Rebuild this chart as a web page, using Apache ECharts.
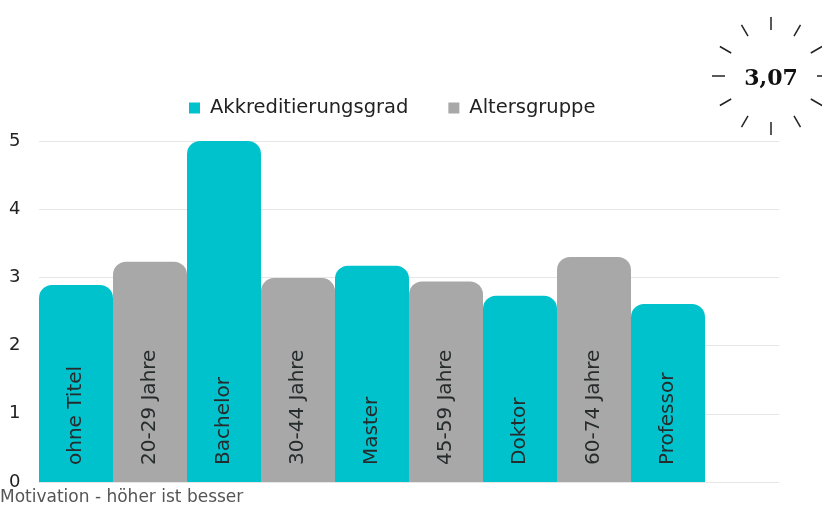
<!DOCTYPE html>
<html><head><meta charset="utf-8">
<script src="https://cdn.jsdelivr.net/npm/echarts@6/dist/echarts.min.js"></script>
<style>html,body{margin:0;padding:0;background:#fff}#c{width:822px;height:513px}</style>
</head><body><div id="c"></div>
<script>
const categories = ['ohne Titel','20-29 Jahre','Bachelor','30-44 Jahre','Master','45-59 Jahre','Doktor','60-74 Jahre','Professor',''];
const akkreditierung = [2.89, null, 5.0, null, 3.17, null, 2.73, null, 2.61, null];
const altersgruppe = [null, 3.23, null, 2.99, null, 2.94, null, 3.30, null, null];
const seriesNames = ['Akkreditierungsgrad', 'Altersgruppe'];
const yTicks = [0, 1, 2, 3, 4, 5];
const badgeValue = '3,07';
const footnote = 'Motivation - höher ist besser';

const chart = echarts.init(document.getElementById('c'), null, {renderer: 'canvas'});
const font = "'DejaVu Sans', sans-serif";
const labelCfg = {
  show: true, position: 'insideBottom', rotate: 90, distance: 17,
  align: 'left', verticalAlign: 'middle',
  formatter: '{b}', color: '#262b2c', fontSize: 20, fontFamily: font
};
// badge rays (decoration)
const cx = 771, cy = 76, r1 = 46, r2 = 59;
const rays = [];
for (let i = 0; i < 12; i++) {
  const a = i * Math.PI / 6;
  rays.push({type: 'line', shape: {x1: cx + r1*Math.sin(a), y1: cy - r1*Math.cos(a), x2: cx + r2*Math.sin(a), y2: cy - r2*Math.cos(a)},
    style: {stroke: '#222', lineWidth: 1.5}});
}
chart.setOption({
  animation: false,
  color: ['#00C2CC', '#A8A8A8'],
  legend: {
    data: seriesNames, top: 93, left: 184, itemWidth: 11, itemHeight: 11, itemGap: 40,
    icon: 'rect',
    textStyle: {fontSize: 19.5, color: '#222', fontFamily: font, fontWeight: 'normal', padding: [0, 0, 0, 5]}
  },
  grid: {left: 39, right: 43, top: 141, bottom: 31, containLabel: false},
  xAxis: {
    type: 'category', data: categories,
    axisLine: {show: false}, axisTick: {show: false}, axisLabel: {show: false}
  },
  yAxis: {
    type: 'value', min: yTicks[0], max: yTicks[yTicks.length-1], interval: 1,
    axisLabel: {align: 'left', margin: 30, fontSize: 18, color: '#222', fontFamily: font},
    splitLine: {lineStyle: {color: '#e6e6e6', width: 1}},
    axisLine: {show: false}, axisTick: {show: false}
  },
  series: [
    {name: seriesNames[0], type: 'bar', data: akkreditierung, barWidth: '100%', barGap: '-100%',
      itemStyle: {borderRadius: [13, 13, 0, 0]}, label: labelCfg},
    {name: seriesNames[1], type: 'bar', data: altersgruppe, barWidth: '100%', barGap: '-100%',
      itemStyle: {borderRadius: [13, 13, 0, 0]}, label: labelCfg}
  ],
  graphic: rays.concat([
    {type: 'text', x: cx, y: cy + 3, style: {text: badgeValue, x: 0, y: 0, align: 'center', verticalAlign: 'middle',
      font: "bold 22px 'DejaVu Serif', serif", fill: '#111'}},
    {type: 'text', left: 0, top: 489, style: {text: footnote, font: "17px 'DejaVu Sans', sans-serif", fill: '#555'}}
  ])
});
</script></body></html>
